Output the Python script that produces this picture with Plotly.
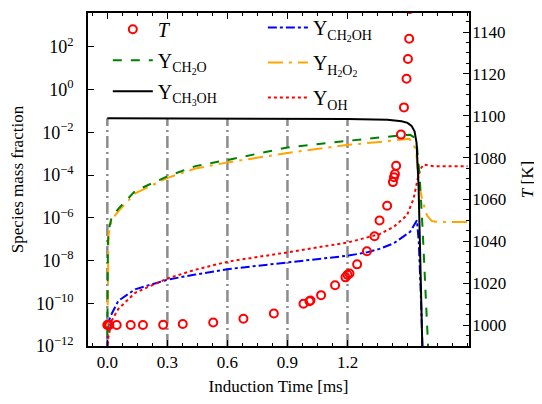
import plotly.graph_objects as go

# tempo de inducao [ms] e fracoes massicas
t_ch3oh = [0.0, 0.3, 0.6, 0.9, 1.2, 1.4, 1.47, 1.5, 1.52, 1.535, 1.545, 1.555, 1.565, 1.575]
y_ch3oh = [0.045, 0.045, 0.044, 0.044, 0.042, 0.038, 0.033, 0.0275, 0.02, 0.011, 3.2e-3, 3.2e-5, 1e-8, 3e-13]

t_ch2o = [0.0, 0.001, 0.003, 0.006, 0.022, 0.055, 0.139, 0.305, 0.44, 0.608, 0.9, 1.205, 1.36,
          1.46, 1.513, 1.535, 1.547, 1.56, 1.575, 1.59, 1.605]
y_ch2o = [3.2e-12, 3.2e-9, 6.3e-8, 2.5e-7, 1.07e-6, 2.6e-6, 1.8e-5, 9.1e-5, 2.6e-4, 5.2e-4, 1.95e-3,
          4.0e-3, 5.8e-3, 7.1e-3, 7.6e-3, 5.6e-3, 2.2e-3, 1e-4, 3.2e-7, 3.2e-10, 3.2e-13]

t_h2o2 = [0.0, 0.001, 0.003, 0.006, 0.022, 0.055, 0.139, 0.305, 0.44, 0.608, 0.9, 1.205, 1.36,
          1.45, 1.51, 1.543, 1.55, 1.563, 1.572, 1.597, 1.62, 1.647, 1.8]
y_h2o2 = [3.2e-12, 5e-11, 3.2e-8, 1.6e-7, 7.9e-7, 2e-6, 1.4e-5, 7.6e-5, 2e-4, 4e-4, 1.07e-3, 2.6e-3,
          3.5e-3, 4.5e-3, 5e-3, 1.5e-3, 1.8e-4, 2.2e-5, 7.6e-6, 1.3e-6, 7.1e-7, 6.3e-7, 6.3e-7]

t_ch2oh = [0.0, 0.002, 0.013, 0.055, 0.139, 0.305, 0.44, 0.608, 0.9, 1.205, 1.297, 1.36, 1.43,
           1.513, 1.547, 1.556, 1.566, 1.576]
y_ch2oh = [6.3e-13, 5e-12, 2.2e-11, 1.3e-10, 4.5e-10, 1.3e-9, 2.2e-9, 4e-9, 8.1e-9, 1.7e-8, 2.4e-8,
           3.5e-8, 6.3e-8, 2.2e-7, 7.6e-7, 7.6e-8, 3.2e-10, 3.2e-13]

t_oh = [0.0, 0.005, 0.022, 0.055, 0.139, 0.305, 0.44, 0.608, 0.9, 1.205, 1.36, 1.43, 1.497, 1.53,
        1.55, 1.563, 1.58, 1.63, 1.8]
y_oh = [3.2e-13, 2.5e-12, 1.55e-11, 5.4e-11, 3.1e-10, 1.5e-9, 3.7e-9, 9.1e-9, 2.4e-8, 7.1e-8, 1.7e-7,
        3.7e-7, 1.3e-6, 7.6e-6, 6.3e-5, 1.8e-4, 3.1e-4, 2.6e-4, 2.6e-4]

# temperatura [K] (eixo da direita)
t_temp = [0.0, 0.003, 0.006, 0.01, 0.047, 0.117, 0.178, 0.279, 0.377, 0.529, 0.68, 0.832, 0.98,
          1.01, 1.015, 1.068, 1.138, 1.19, 1.2, 1.21, 1.248, 1.297, 1.335, 1.36, 1.398, 1.427,
          1.432, 1.437, 1.443, 1.467, 1.482, 1.495, 1.502, 1.508, 1.51]
temp = [1000, 1000, 1000, 1000, 1000, 1000, 1000, 1000.1, 1000.5, 1001.2, 1003, 1005.5, 1010.2,
        1011.4, 1011.7, 1014.3, 1019, 1022.8, 1024, 1024.6, 1029, 1035.3, 1042.4, 1050, 1057,
        1068.3, 1070.6, 1072.2, 1076.1, 1091, 1104, 1117.7, 1127.1, 1136.8, 1151]

# ticks
t_grid = [0.0, 0.3, 0.6, 0.9, 1.2]
x_labels = ["0.0", "0.3", "0.6", "0.9", "1.2"]
y_ticks = [1e-12, 1e-10, 1e-8, 1e-6, 1e-4, 1e-2, 1, 1e2]
y_labels = ["10<sup>\u221212</sup>", "10<sup>\u221210</sup>", "10<sup>\u22128</sup>", "10<sup>\u22126</sup>",
            "10<sup>\u22124</sup>", "10<sup>\u22122</sup>", "10<sup>0</sup>", "10<sup>2</sup>"]
T_ticks = [1000, 1020, 1040, 1060, 1080, 1100, 1120, 1140]

fonte = "Liberation Serif"

fig = go.Figure()

# linhas verticais cinzas ate a curva do CH3OH
gx, gy = [], []
for tg in t_grid:
    topo = y_ch3oh[t_ch3oh.index(tg)]
    gx += [tg, tg, None]
    gy += [1e-12, topo, None]
fig.add_scatter(x=gx, y=gy, mode="lines", showlegend=False, hoverinfo="skip",
                line=dict(color="#8c8c8c", width=2.5, dash="12px,4px,2px,4px"))

# coluna 2 da legenda
fig.add_scatter(x=t_ch2oh, y=y_ch2oh, mode="lines", name="Y<sub>CH<sub>2</sub>OH</sub>",
                legend="legend2", legendgroup="ch2oh", legendrank=1,
                line=dict(color="blue", width=2, dash="dashdot"))
fig.add_scatter(x=t_h2o2, y=y_h2o2, mode="lines", name="Y<sub>H<sub>2</sub>O<sub>2</sub></sub>",
                legend="legend2", legendgroup="h2o2", legendrank=2,
                line=dict(color="orange", width=2, dash="longdashdot"))
fig.add_scatter(x=t_oh, y=y_oh, mode="lines", name="Y<sub>OH</sub>",
                legend="legend2", legendgroup="oh", legendrank=3,
                line=dict(color="red", width=2, dash="dot"))
# coluna 1 da legenda
fig.add_scatter(x=t_ch2o, y=y_ch2o, mode="lines", name="Y<sub>CH<sub>2</sub>O</sub>",
                legendgroup="ch2o", legendrank=2,
                line=dict(color="green", width=2, dash="dash"))
fig.add_scatter(x=t_ch3oh, y=y_ch3oh, mode="lines", name="Y<sub>CH<sub>3</sub>OH</sub>",
                legendgroup="ch3oh", legendrank=3,
                line=dict(color="black", width=2))
fig.add_scatter(x=t_temp, y=temp, mode="markers", name="<i>T</i>", yaxis="y2",
                legendgroup="temp", legendrank=1,
                marker=dict(symbol="circle-open", size=8, color="red", line=dict(width=2, color="red")))

leg = dict(xanchor="left", yanchor="top", itemwidth=40, bgcolor="rgba(0,0,0,0)",
           traceorder="grouped", font=dict(size=20, family=fonte))

fig.update_layout(
    width=534, height=396,
    margin=dict(l=80, r=73, t=0, b=58),
    paper_bgcolor="white", plot_bgcolor="white",
    font=dict(family=fonte, size=17, color="black"),
    legend=dict(leg, x=0.052, y=1.01, tracegroupgap=2),
    legend2=dict(leg, x=0.459, y=1.015, tracegroupgap=6),
    xaxis=dict(
        title=dict(text="Induction Time [ms]", font=dict(size=17), standoff=9),
        range=[-0.0965, 1.807], tickvals=t_grid, ticktext=x_labels, automargin=False,
        ticks="inside", ticklen=6, tickwidth=1.2, tickcolor="black",
        showline=True, linecolor="black", linewidth=1.5, mirror="ticks",
        showgrid=False, zeroline=False,
        minor=dict(tick0=0, dtick=0.075, ticks="inside", ticklen=3.5, tickcolor="black", showgrid=False),
    ),
    yaxis=dict(
        title=dict(text="Species mass fraction", font=dict(size=17)),
        type="log", range=[-12, 3.58], tickvals=y_ticks, ticktext=y_labels, automargin=False,
        ticks="inside", ticklen=6, tickwidth=1.2, tickcolor="black", ticklabelstandoff=9,
        showline=True, linecolor="black", linewidth=1.5, mirror=False,
        showgrid=False, zeroline=False, tickfont=dict(size=18),
    ),
    yaxis2=dict(
        title=dict(text="<i>T</i> [K]", font=dict(size=17), standoff=16),
        overlaying="y", side="right", range=[990, 1149.1], automargin=False,
        tickvals=T_ticks, ticklabelstandoff=-2,
        ticks="inside", ticklen=6, tickwidth=1.2, tickcolor="black",
        showline=True, linecolor="black", linewidth=1.5,
        showgrid=False, zeroline=False, tickfont=dict(size=17),
        minor=dict(tick0=1000, dtick=5, ticks="inside", ticklen=3.5, tickcolor="black", showgrid=False),
    ),
)

fig.write_html("out.html")
